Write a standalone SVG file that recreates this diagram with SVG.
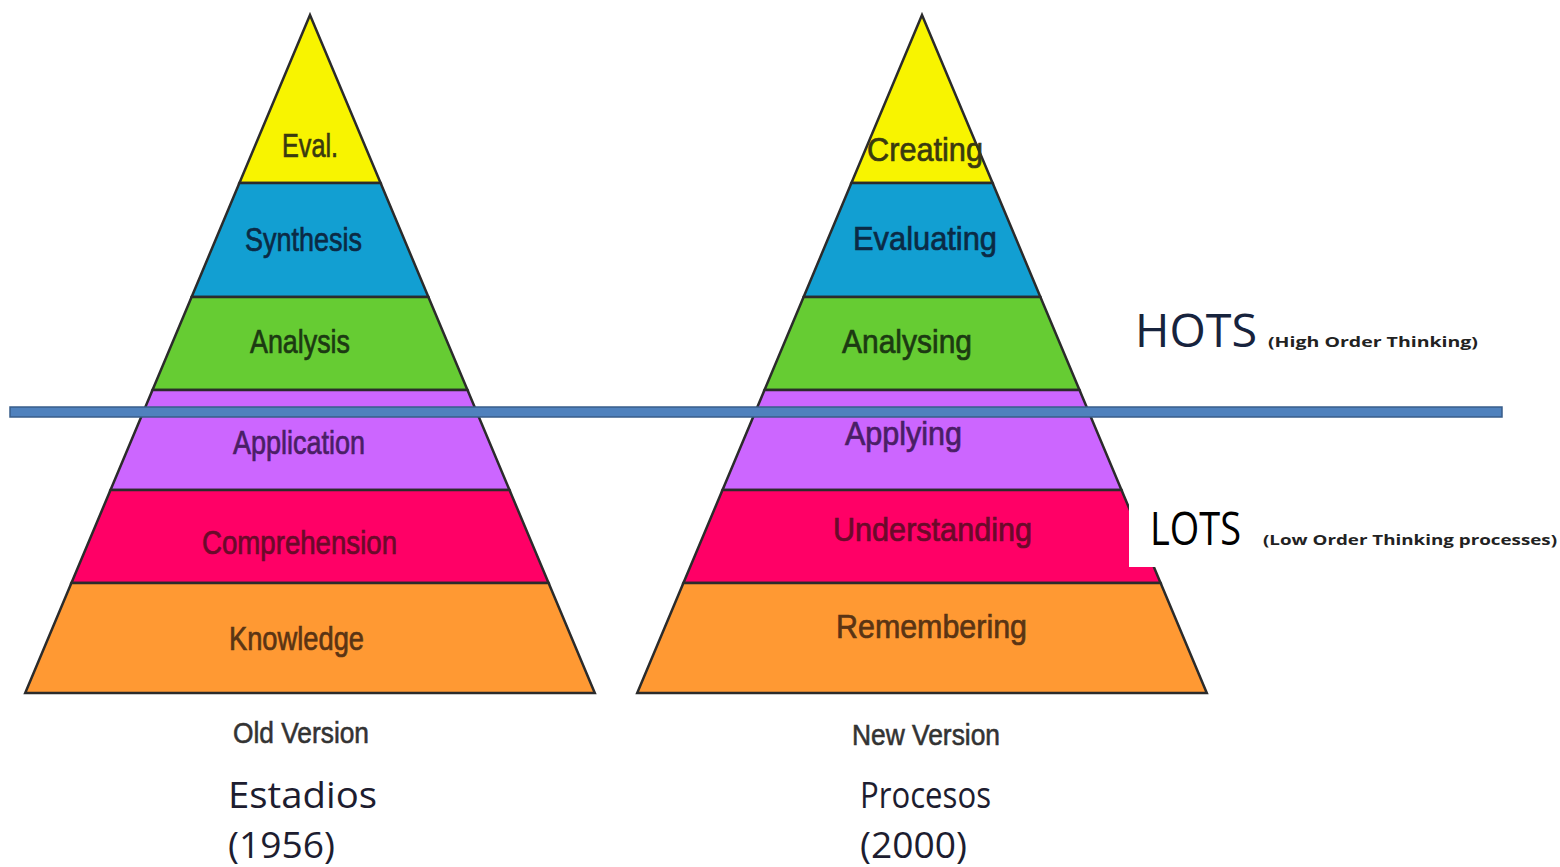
<svg xmlns="http://www.w3.org/2000/svg" width="1560" height="867" viewBox="0 0 1560 867">
<style>
.band{stroke:#2b2b2b;stroke-width:2.5;stroke-linejoin:miter}
.y{fill:#f8f400}.b{fill:#129fd2}.g{fill:#66cc33}.p{fill:#cc66ff}.r{fill:#ff0066}.o{fill:#ff9933}
.lbl{font-family:"Liberation Sans",Arial,sans-serif;font-size:34px;text-anchor:start;stroke-width:0.7}
.cap{font-family:"Liberation Sans",Arial,sans-serif;font-size:30px;fill:#333333;stroke:#333333;stroke-width:0.6}
.big{font-family:"Open Sans","Liberation Sans",sans-serif;font-size:37px;fill:#1d1d30}
.hl{font-family:"Open Sans","Liberation Sans",sans-serif;font-size:45px}
.sm{font-family:"Open Sans","Liberation Sans",sans-serif;font-size:14px;font-weight:bold;fill:#222}
</style>
<rect width="1560" height="867" fill="#ffffff"/>
<g id="old-pyramid">
  <g id="old-eval"><polygon class="band y" points="310,15 380.6,183 239.4,183"/><text class="lbl" x="282" y="157" fill="#3a3a10" stroke="#3a3a10" textLength="56" lengthAdjust="spacingAndGlyphs">Eval.</text></g>
  <g id="old-synthesis"><polygon class="band b" points="239.4,183 380.6,183 428.4,297 191.6,297"/><text class="lbl" x="245" y="251" fill="#0b2a45" stroke="#0b2a45" textLength="117" lengthAdjust="spacingAndGlyphs">Synthesis</text></g>
  <g id="old-analysis"><polygon class="band g" points="191.6,297 428.4,297 467.5,390 152.5,390"/><text class="lbl" x="250" y="353" fill="#1c3a12" stroke="#1c3a12" textLength="100" lengthAdjust="spacingAndGlyphs">Analysis</text></g>
  <g id="old-application"><polygon class="band p" points="152.5,390 467.5,390 509.5,490 110.5,490"/><text class="lbl" x="233" y="454" fill="#4a1e66" stroke="#4a1e66" textLength="132" lengthAdjust="spacingAndGlyphs">Application</text></g>
  <g id="old-comprehension"><polygon class="band r" points="110.5,490 509.5,490 548.6,583 71.4,583"/><text class="lbl" x="202" y="554" fill="#6a0a2a" stroke="#6a0a2a" textLength="195" lengthAdjust="spacingAndGlyphs">Comprehension</text></g>
  <g id="old-knowledge"><polygon class="band o" points="71.4,583 548.6,583 594.8,693 25.2,693"/><text class="lbl" x="229" y="650" fill="#5a3414" stroke="#5a3414" textLength="135" lengthAdjust="spacingAndGlyphs">Knowledge</text></g>
</g>
<g id="new-pyramid">
  <g id="new-creating"><polygon class="band y" points="922,15 992.6,183 851.4,183"/><text class="lbl" x="867" y="161" fill="#3a3a10" stroke="#3a3a10" textLength="116" lengthAdjust="spacingAndGlyphs">Creating</text></g>
  <g id="new-evaluating"><polygon class="band b" points="851.4,183 992.6,183 1040.4,297 803.6,297"/><text class="lbl" x="853" y="250" fill="#0b2a45" stroke="#0b2a45" textLength="144" lengthAdjust="spacingAndGlyphs">Evaluating</text></g>
  <g id="new-analysing"><polygon class="band g" points="803.6,297 1040.4,297 1079.5,390 764.5,390"/><text class="lbl" x="842" y="353" fill="#1c3a12" stroke="#1c3a12" textLength="130" lengthAdjust="spacingAndGlyphs">Analysing</text></g>
  <g id="new-applying"><polygon class="band p" points="764.5,390 1079.5,390 1121.5,490 722.5,490"/><text class="lbl" x="845" y="445" fill="#4a1e66" stroke="#4a1e66" textLength="117" lengthAdjust="spacingAndGlyphs">Applying</text></g>
  <g id="new-understanding"><polygon class="band r" points="722.5,490 1121.5,490 1160.6,583 683.4,583"/><text class="lbl" x="833" y="541" fill="#6a0a2a" stroke="#6a0a2a" textLength="199" lengthAdjust="spacingAndGlyphs">Understanding</text></g>
  <g id="new-remembering"><polygon class="band o" points="683.4,583 1160.6,583 1206.8,693 637.2,693"/><text class="lbl" x="836" y="638" fill="#5a3414" stroke="#5a3414" textLength="191" lengthAdjust="spacingAndGlyphs">Remembering</text></g>
</g>
<g id="connectors">
  <rect x="10" y="407" width="1492" height="10" fill="#4f81bd" stroke="#385d8a" stroke-width="1.5"/>
</g>
<g id="captions">
  <text class="cap" x="233" y="743" textLength="136" lengthAdjust="spacingAndGlyphs">Old Version</text>
  <text class="cap" x="852" y="745" textLength="148" lengthAdjust="spacingAndGlyphs">New Version</text>
  <text class="big" x="228" y="808" textLength="149" lengthAdjust="spacingAndGlyphs">Estadios</text>
  <text class="big" x="228" y="858" textLength="107" lengthAdjust="spacingAndGlyphs">(1956)</text>
  <text class="big" x="860" y="808" textLength="131" lengthAdjust="spacingAndGlyphs">Procesos</text>
  <text class="big" x="860" y="858" textLength="107" lengthAdjust="spacingAndGlyphs">(2000)</text>
</g>
<g id="hots">
  <text class="hl" x="1135" y="347" fill="#17233d" textLength="122" lengthAdjust="spacingAndGlyphs">HOTS</text>
  <text class="sm" x="1268" y="347" textLength="210" lengthAdjust="spacingAndGlyphs">(High Order Thinking)</text>
</g>
<g id="lots">
  <rect x="1129" y="490" width="134" height="77" fill="#ffffff"/>
  <text class="hl" x="1150" y="545" fill="#000000" textLength="91" lengthAdjust="spacingAndGlyphs">LOTS</text>
  <text class="sm" x="1263" y="545" textLength="294" lengthAdjust="spacingAndGlyphs">(Low Order Thinking processes)</text>
</g>
</svg>
